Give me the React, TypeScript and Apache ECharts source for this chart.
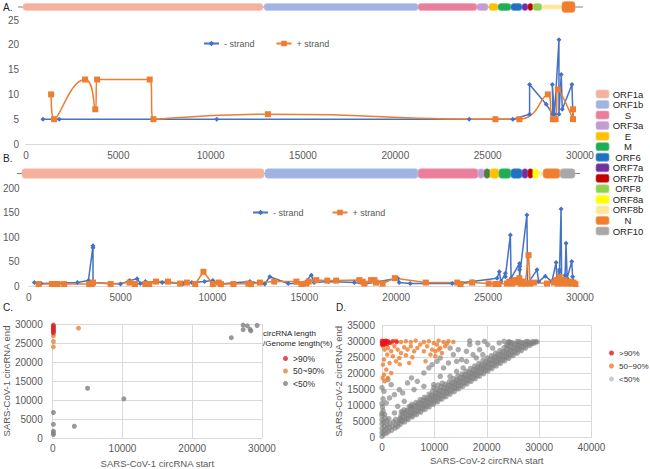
import React, { useEffect, useRef } from "react";
import * as echarts from "echarts";

// ---------- genome maps (positions, nt) ----------
const aGeneNames = ["ORF1a", "ORF1b", "S", "ORF3a", "E", "M", "ORF6", "ORF7a", "ORF7b", "ORF8", "ORF8b", "N"];
const aGeneStarts = [-160, 12890, 21230, 24420, 25070, 25560, 26260, 26860, 27180, 27450, 27940, 29020];
const aGeneEnds = [12830, 21230, 24420, 25020, 25560, 26260, 26860, 27180, 27450, 27940, 29020, 29730];
const aBackbone = [-430, 30160];

const bGeneNames = ["ORF1a", "ORF1b", "S", "ORF3a", "ORF3b", "E", "M", "ORF6", "ORF7a", "ORF7b", "ORF8a", "ORF8b", "N", "ORF10"];
const bGeneStarts = [-220, 12940, 21230, 24480, 24800, 25130, 25610, 26260, 26860, 27180, 27450, 27730, 28000, 28920];
const bGeneEnds = [12890, 21230, 24480, 24800, 25130, 25610, 26260, 26860, 27180, 27450, 27730, 28000, 28920, 29730];
const bBackbone = [-490, 30000];

const legendGenes = ["ORF1a", "ORF1b", "S", "ORF3a", "E", "M", "ORF6", "ORF7a", "ORF7b", "ORF8", "ORF8a", "ORF8b", "N", "ORF10"];

// ---------- panel A (SARS-CoV-1 circRNA counts) ----------
const aMinus = [[920, 5], [1800, 5], [10330, 5], [24000, 5], [26360, 5], [27270, 6], [27270, 12], [28170, 8], [28530, 6], [28500, 12], [28620, 6], [28860, 21], [28860, 6], [28985, 14], [29040, 7], [29565, 12], [29620, 5]];
const aPlus = [[1360, 10], [1520, 5], [3200, 13], [3750, 7], [3850, 13], [6700, 13], [6900, 5], [13100, 6], [25420, 5], [26720, 5], [28260, 10], [28530, 5], [28680, 5], [28800, 11], [29620, 5], [29620, 7]];

// ---------- panel B (SARS-CoV-2 circRNA counts) ----------
const bMinus = [[310, 7], [670, 5], [2650, 7], [3250, 11], [3500, 82], [3500, 78], [3500, 7], [5000, 4], [5490, 11], [5900, 15], [6080, 5], [6350, 9], [7260, 7], [8430, 5], [8880, 7], [9570, 9], [10020, 11], [10410, 4], [12040, 9], [12850, 4], [13120, 19], [14120, 5], [14930, 5], [15380, 22], [15530, 7], [16300, 9], [17720, 7], [18270, 4], [20080, 16], [20160, 7], [20760, 5], [23050, 5], [24130, 9], [25490, 16], [25610, 29], [25700, 9], [25940, 26], [25940, 19], [26210, 104], [26250, 16], [26710, 46], [26710, 40], [26710, 33], [26710, 19], [27110, 145], [27150, 5], [27660, 33], [27750, 9], [28110, 20], [28470, 9], [28700, 48], [28750, 9], [28880, 33], [28880, 29], [28880, 22], [28970, 157], [29000, 9], [29190, 22], [29240, 87], [29300, 16], [29550, 50], [29600, 19], [29700, 5]];
const bPlus = [[540, 4], [1260, 4], [1480, 4], [1570, 4], [1930, 4], [3290, 4], [3430, 4], [3500, 7], [4460, 4], [5490, 7], [5780, 4], [6350, 4], [6560, 4], [6930, 9], [7580, 9], [8240, 5], [8610, 7], [9060, 4], [9510, 29], [10020, 4], [10340, 7], [10460, 4], [11140, 4], [11950, 5], [12090, 4], [12580, 7], [13360, 9], [14570, 9], [14840, 4], [15110, 5], [15240, 9], [15650, 12], [16250, 11], [16730, 11], [17990, 12], [18170, 9], [18270, 5], [18630, 12], [18810, 12], [18900, 7], [19260, 5], [19930, 16], [21610, 7], [23320, 7], [23500, 4], [24130, 7], [25030, 5], [25390, 4], [25570, 4], [26030, 5], [26150, 9], [26300, 5], [26450, 12], [26550, 7], [26700, 16], [26800, 5], [26900, 9], [27020, 5], [27200, 63], [27290, 5], [27500, 7], [28200, 5], [28580, 7], [28700, 12], [28800, 5], [28880, 18], [28950, 9], [29050, 5], [29150, 12], [29250, 7], [29350, 5], [29450, 9], [29550, 5], [29650, 7], [29750, 4]];

// ---------- panel C (SARS-CoV-1 start vs end) ----------
const cHigh = [[100, 29700], [100, 29300], [100, 28900], [100, 28500], [100, 28100], [100, 27700]];
const cMid = [[100, 26900], [100, 25400], [100, 24000], [3700, 28900]];
const cLow = [[100, 6700], [100, 3600], [100, 1800], [100, 1300], [100, 900], [3100, 3100], [5000, 13100], [10200, 10300], [25600, 26400], [27300, 29700], [27300, 28500], [27900, 29500], [28300, 28600], [28400, 28200], [29300, 29600]];

// ---------- panel D (SARS-CoV-2 start vs end) ----------
const dHigh = [[0, 30200], [190, 29790], [375, 30000], [500, 29480], [690, 30200], [875, 29790], [1125, 30000], [1440, 29580], [190, 29170], [500, 28960], [0, 28960], [1000, 29170], [2060, 30000], [2810, 29790], [0, 29580]];
const dMid = [
  [810, 30000], [1750, 29480], [2690, 30200], [3625, 29800], [4560, 30000], [5500, 29800], [6440, 30200], [8000, 29800], [8940, 30000], [9875, 29480], [10810, 30200], [11750, 29800], [12690, 30000], [13625, 29800],
  [190, 28440], [500, 27400], [1125, 27920], [1750, 26880], [2375, 28440], [3000, 27400], [3625, 26350], [4250, 28125], [4875, 27400], [5500, 28440], [6125, 26880], [6750, 27920],
  [1000, 25830], [2060, 25310], [3310, 24790], [4560, 25625], [5810, 25000], [375, 24270], [1440, 23230], [2690, 23750], [5190, 23230], [190, 22700], [810, 21150], [375, 19580], [1125, 18540], [500, 17500], [1750, 20100], [125, 18540], [3400, 22800],
  [8625, 28440], [9560, 27400], [10190, 26880], [11125, 27920], [10500, 28960], [11440, 26350], [12060, 28440], [9250, 25830], [8310, 23750], [10190, 25310], [10810, 27400], [8000, 26880], [7300, 29000], [12400, 29300]
];
const dLow = [
  [0, 300], [0, 1500], [0, 2800], [0, 4200], [0, 5500], [0, 6800], [0, 7500], [300, 1000], [400, 2200], [500, 3500], [300, 4800], [600, 6000], [500, 7200], [200, 8300], [100, 9500], [800, 1200], [900, 2600], [1000, 3900], [900, 5200], [1200, 1800], [1400, 3000], [1500, 4300], [1300, 5800], [1800, 2200], [2000, 3400], [2200, 4800], [2500, 2900], [2700, 4000], [2600, 5600], [3000, 3400], [3200, 4600], [3400, 5800],
  [3500, 4100], [3500, 5300], [3600, 6700], [3700, 8000], [4300, 4800], [4300, 6100], [4400, 7500], [4200, 8600], [5000, 5600], [5100, 6900], [5000, 8200], [5200, 9600], [5800, 6400], [5800, 7700], [5900, 9100], [5700, 10300],
  [6600, 7100], [6600, 8400], [6700, 9800], [6500, 10900], [7400, 7900], [7400, 9200], [7500, 10600], [7300, 11800], [8200, 8700], [8200, 10000], [8300, 11300], [8100, 12500], [9000, 9500], [9000, 10800], [9100, 12200], [9000, 13500],
  [9800, 10300], [9800, 11600], [9900, 13000], [9700, 14400], [9900, 15500], [10600, 11100], [10600, 12400], [10700, 13800], [10500, 15000], [10700, 16300], [11400, 11900], [11400, 13200], [11500, 14600], [11300, 15800], [11500, 16900],
  [12200, 12700], [12200, 14000], [12300, 15400], [12100, 16600], [13000, 13500], [13000, 14800], [13100, 16200], [12900, 17500], [13800, 14300], [13800, 15600], [13900, 17000], [13700, 18300], [14600, 15100], [14600, 16400], [14700, 17800], [14500, 19200],
  [15400, 15900], [15400, 17200], [15500, 18600], [15300, 19800], [16200, 16700], [16200, 18000], [16300, 19300], [16100, 20600], [17000, 17500], [17000, 18800], [17100, 20100], [16900, 21500], [17800, 18300], [17800, 19600], [17900, 21000], [17700, 22300],
  [18600, 19100], [18600, 20400], [18700, 21800], [18500, 23100], [19400, 19900], [19400, 21200], [19500, 22500], [19300, 24000], [20200, 20700], [20200, 22000], [20300, 23400], [20100, 24800], [21000, 21500], [21000, 22800], [21100, 24100], [20900, 25500],
  [21800, 22300], [21800, 23600], [21900, 25000], [21700, 26300], [22600, 23100], [22600, 24400], [22700, 25800], [22500, 27100], [23400, 23900], [23400, 25200], [23500, 26600], [23300, 28000], [24200, 24700], [24200, 26000], [24300, 27400], [24100, 28700], [24200, 29800],
  [25000, 25500], [25000, 26800], [25100, 28200], [24900, 29500], [25800, 26300], [25800, 27600], [25900, 28900], [25800, 29900], [26600, 27100], [26600, 28400], [26700, 29600], [27400, 27900], [27400, 29100], [27500, 29900], [28200, 28700], [28200, 29700], [29000, 29400], [28800, 29900], [29600, 29800],
  [3900, 5000], [3900, 6300], [3900, 7600], [4700, 5800], [4700, 7100], [4700, 8400], [5500, 6600], [5500, 7900], [5500, 9200], [6200, 7300], [6200, 8600], [6200, 9900], [7000, 8100], [7000, 9400], [7000, 10700], [7800, 8900], [7800, 10200], [7800, 11500],
  [8600, 9700], [8600, 11000], [8600, 12300], [9400, 10500], [9400, 11800], [9400, 13100], [10200, 11300], [10200, 12600], [10200, 13900], [11000, 12100], [11000, 13400], [11000, 14700], [11800, 12900], [11800, 14200], [11800, 15500],
  [12600, 13700], [12600, 15000], [12600, 16300], [13400, 14500], [13400, 15800], [13400, 17100], [14200, 15300], [14200, 16600], [14200, 17900], [15000, 16100], [15000, 17400], [15000, 18700], [15800, 16900], [15800, 18200], [15800, 19500],
  [16600, 17700], [16600, 19000], [16600, 20300], [17400, 18500], [17400, 19800], [17400, 21100], [18200, 19300], [18200, 20600], [18200, 21900], [19000, 20100], [19000, 21400], [19000, 22700], [19800, 20900], [19800, 22200], [19800, 23500],
  [20600, 21700], [20600, 23000], [20600, 24300], [21400, 22500], [21400, 23800], [21400, 25100], [22200, 23300], [22200, 24600], [22200, 25900], [23000, 24100], [23000, 25400], [23000, 26700], [23800, 24900], [23800, 26200], [23800, 27500], [23800, 28800],
  [24600, 25700], [24600, 27000], [24600, 28300], [24600, 29600], [25400, 26500], [25400, 27800], [25400, 29100], [26200, 27300], [26200, 28600], [26200, 29900], [27000, 28100], [27000, 29400], [27800, 28900], [27800, 29900], [28600, 29300], [29300, 29900],
  [375, 14375], [810, 10730], [1440, 12290], [2375, 13330], [3300, 14900], [4875, 17000], [5625, 18540], [6750, 17500], [8000, 15940], [4250, 11250], [5500, 9690], [2375, 7600], [3000, 9690], [8000, 20100], [8940, 21670], [9560, 22700], [10500, 23750], [11125, 24800], [11750, 21670], [12690, 23230], [13625, 25830], [14560, 27400], [15190, 24270], [16125, 26870], [16750, 28960], [17375, 25830], [18310, 29480], [18625, 27400], [19560, 30000], [20190, 28960], [21125, 27900], [22375, 29480], [23310, 30000], [24250, 29800], [13000, 19060], [14250, 20625], [15500, 21670], [11125, 19060], [9875, 16460], [6125, 14900], [3940, 13850], [1750, 16460], [1125, 18020], [16125, 23750], [18000, 24800], [19250, 25830], [14250, 23750], [13000, 27900], [16750, 30100], [0, 10500], [200, 12000], [0, 15500]
];

// ---------- styles ----------
const geneColor: Record<string, string> = {
  ORF1a: "#f4b19b", ORF1b: "#9fb4e3", S: "#e97f9c", ORF3a: "#c49cd4", ORF3b: "#4f7f3a", E: "#ffc000", M: "#1fae55",
  ORF6: "#1f71c4", ORF7a: "#7030a0", ORF7b: "#c00000", ORF8: "#92d050", ORF8a: "#ffff00", ORF8b: "#ffe699", N: "#f07e2f", ORF10: "#a8a8a8",
};
const BLUE = "#4472c4";
const ORANGE = "#ed7d31";
const AXIS_GRAY = "#d9d9d9";
const LABEL = "#595959";
const FONT = "Liberation Sans, Arial, sans-serif";
const plain = (v: number) => String(v);

function geneHeight(name: string, panel: string) {
  if (name === "ORF8b") return 0.3;
  if (panel === "A") return name === "N" ? 0.78 : 0.5;
  return 0.68;
}

function geneSeries(names: string[], starts: number[], ends: number[], axisIdx: number, panel: string) {
  return {
    type: "custom",
    xAxisIndex: axisIdx,
    yAxisIndex: axisIdx,
    silent: true,
    encode: { x: [0, 1] },
    data: names.map((n, i) => [starts[i], ends[i], i]),
    renderItem: (params: any, api: any) => {
      const i = api.value(2);
      const name = names[i];
      const a = api.coord([api.value(0), 0.5]);
      const b = api.coord([api.value(1), 0.5]);
      const h = api.size([0, geneHeight(name, panel)])[1];
      const fill = geneColor[name];
      return {
        type: "rect",
        shape: { x: a[0], y: a[1] - h / 2, width: b[0] - a[0], height: h, r: Math.min(3, h / 2) },
        style: { fill, stroke: echarts.color.lift(fill, 0.25), lineWidth: 0.6 },
      };
    },
  };
}

function backboneSeries(bb: number[], axisIdx: number) {
  return {
    type: "custom",
    xAxisIndex: axisIdx,
    yAxisIndex: axisIdx,
    silent: true,
    encode: { x: [0, 1] },
    data: [bb],
    renderItem: (params: any, api: any) => {
      const a = api.coord([api.value(0), 0.5]);
      const b = api.coord([api.value(1), 0.5]);
      return { type: "line", shape: { x1: a[0], y1: a[1], x2: b[0], y2: b[1] }, style: { stroke: "#808080", lineWidth: 1 } };
    },
  };
}

const hiddenX = { type: "value", min: 0, max: 30000, show: false };
const hiddenY = { type: "value", min: 0, max: 1, show: false };

function lineX(gi: number) {
  return {
    type: "value", gridIndex: gi, min: 0, max: 30000, interval: 5000,
    axisLine: { show: true, lineStyle: { color: AXIS_GRAY } }, axisTick: { show: false }, splitLine: { show: false },
    axisLabel: { color: LABEL, fontSize: 10, fontFamily: FONT, margin: 6, formatter: plain },
  };
}
function lineY(gi: number, max: number, interval: number, margin: number) {
  return {
    type: "value", gridIndex: gi, min: 0, max, interval,
    axisLine: { show: false }, axisTick: { show: false }, splitLine: { show: false },
    axisLabel: { color: LABEL, fontSize: 10, fontFamily: FONT, margin, formatter: plain },
  };
}
function scatterAxis(gi: number, max: number, interval: number, name: string, nameGap: number, labelMargin: number) {
  return {
    type: "value", gridIndex: gi, min: 0, max, interval, name, nameLocation: "middle", nameGap,
    nameTextStyle: { color: LABEL, fontSize: 9.5, fontFamily: FONT },
    axisLine: { show: true, lineStyle: { color: AXIS_GRAY } }, axisTick: { show: false },
    splitLine: { show: true, lineStyle: { color: AXIS_GRAY } },
    axisLabel: { color: LABEL, fontSize: 10, fontFamily: FONT, margin: labelMargin, formatter: plain },
  };
}

export default function App() {
  const ref = useRef<HTMLDivElement>(null);
  useEffect(() => {
    if (!ref.current) return;
    const chart = echarts.init(ref.current, undefined, { renderer: "svg" });
    const option: any = {
      animation: false,
      backgroundColor: "#ffffff",
      textStyle: { fontFamily: FONT },
      title: [
        { text: "A.", left: 3, top: 2, padding: 0, textStyle: { fontSize: 10, fontWeight: "normal", color: "#222", fontFamily: FONT } },
        { text: "B.", left: 3, top: 153, padding: 0, textStyle: { fontSize: 10, fontWeight: "normal", color: "#222", fontFamily: FONT } },
        { text: "C.", left: 3, top: 302, padding: 0, textStyle: { fontSize: 10, fontWeight: "normal", color: "#222", fontFamily: FONT } },
        { text: "D.", left: 336, top: 302, padding: 0, textStyle: { fontSize: 10, fontWeight: "normal", color: "#222", fontFamily: FONT } },
        { text: "circRNA length\n/Genome length(%)", left: 263, top: 328, padding: 0, textStyle: { fontSize: 8, lineHeight: 10, fontWeight: "normal", color: "#222", fontFamily: FONT } },
      ],
      grid: [
        { left: 26, width: 554, top: 0, height: 14 },
        { left: 26, width: 554, top: 20, height: 124 },
        { left: 26, width: 554, top: 166.5, height: 14 },
        { left: 26, width: 554, top: 188, height: 98 },
        { left: 51, width: 211, top: 324, height: 117 },
        { left: 382, width: 209.5, top: 325.3, height: 112 },
      ],
      xAxis: [
        { ...hiddenX, gridIndex: 0 },
        lineX(1),
        { ...hiddenX, gridIndex: 2 },
        lineX(3),
        scatterAxis(4, 30000, 10000, "SARS-CoV-1 circRNA start", 20, 5),
        scatterAxis(5, 40000, 10000, "SARS-CoV-2 circRNA start", 18, 5),
      ],
      yAxis: [
        { ...hiddenY, gridIndex: 0 },
        lineY(1, 25, 5, 7),
        { ...hiddenY, gridIndex: 2 },
        lineY(3, 200, 50, 9),
        scatterAxis(4, 30000, 5000, "SARS-CoV-1 circRNA end", 38, 10),
        scatterAxis(5, 35000, 5000, "SARS-CoV-2 circRNA end", 34, 7),
      ],
      legend: [
        {
          data: ["- strand", "+ strand"], left: 203, top: 39, padding: 0, itemWidth: 15, itemHeight: 7, itemGap: 21,
          textStyle: { color: LABEL, fontSize: 9, fontFamily: FONT },
        },
        {
          data: ["- strand", "+ strand"], left: 252, top: 208, padding: 0, itemWidth: 15, itemHeight: 7, itemGap: 28,
          textStyle: { color: LABEL, fontSize: 9, fontFamily: FONT },
        },
        {
          orient: "vertical", left: 283, top: 354, padding: 0, icon: "circle", itemWidth: 5, itemHeight: 5, itemGap: 3.5,
          data: [
            { name: ">90%", itemStyle: { color: "#d8232a" } },
            { name: "50~90%", itemStyle: { color: "#e8853a" } },
            { name: "<50%", itemStyle: { color: "#808080" } },
          ],
          textStyle: { color: "#333", fontSize: 8.5, fontFamily: FONT },
        },
        {
          orient: "vertical", left: 609, top: 349, padding: 0, icon: "circle", itemWidth: 5, itemHeight: 5, itemGap: 5,
          data: [
            { name: ">90%", itemStyle: { color: "#e8151b" } },
            { name: "50~90%", itemStyle: { color: ORANGE } },
            { name: "<50%", itemStyle: { color: "#c0c0c0" } },
          ],
          textStyle: { color: "#333", fontSize: 8, fontFamily: FONT },
        },
      ],
      graphic: legendGenes.map((n, i) => ({
        type: "group",
        x: 596,
        y: 94 + i * 10.54,
        children: [
          { type: "rect", shape: { x: 0, y: -4, width: 13, height: 8, r: 2 }, style: { fill: geneColor[n], stroke: echarts.color.lift(geneColor[n], 0.3), lineWidth: 0.7 } },
          { type: "text", style: { text: n, x: 32, y: 0, align: "center", verticalAlign: "middle", fontSize: 9.5, fontFamily: FONT, fill: "#222" } },
        ],
      })),
      series: [
        backboneSeries(aBackbone, 0),
        geneSeries(aGeneNames, aGeneStarts, aGeneEnds, 0, "A"),
        {
          name: "- strand", type: "line", xAxisIndex: 1, yAxisIndex: 1, data: aMinus, symbol: "diamond", symbolSize: 5,
          itemStyle: { color: BLUE }, lineStyle: { color: BLUE, width: 1.5 },
        },
        {
          name: "+ strand", type: "line", xAxisIndex: 1, yAxisIndex: 1, data: aPlus, symbol: "rect", symbolSize: 6, smooth: 0.6,
          itemStyle: { color: ORANGE }, lineStyle: { color: ORANGE, width: 1.5 },
        },
        backboneSeries(bBackbone, 2),
        geneSeries(bGeneNames, bGeneStarts, bGeneEnds, 2, "B"),
        {
          name: "- strand", type: "line", xAxisIndex: 3, yAxisIndex: 3, data: bMinus, symbol: "diamond", symbolSize: 5,
          itemStyle: { color: BLUE }, lineStyle: { color: BLUE, width: 1.5 },
        },
        {
          name: "+ strand", type: "line", xAxisIndex: 3, yAxisIndex: 3, data: bPlus, symbol: "rect", symbolSize: 6,
          itemStyle: { color: ORANGE }, lineStyle: { color: ORANGE, width: 1.5 },
        },
        { name: "<50%", type: "scatter", xAxisIndex: 4, yAxisIndex: 4, data: cLow, symbolSize: 5, itemStyle: { color: "#808080" } },
        { name: "50~90%", type: "scatter", xAxisIndex: 4, yAxisIndex: 4, data: cMid, symbolSize: 5, itemStyle: { color: "#e8853a" } },
        { name: ">90%", type: "scatter", xAxisIndex: 4, yAxisIndex: 4, data: cHigh, symbolSize: 5, itemStyle: { color: "#d8232a" } },
        { name: "<50%", type: "scatter", xAxisIndex: 5, yAxisIndex: 5, data: dLow, symbolSize: 5.5, itemStyle: { color: "#7f7f7f", opacity: 0.65 } },
        { name: "50~90%", type: "scatter", xAxisIndex: 5, yAxisIndex: 5, data: dMid, symbolSize: 4.5, itemStyle: { color: ORANGE } },
        { name: ">90%", type: "scatter", xAxisIndex: 5, yAxisIndex: 5, data: dHigh, symbolSize: 4.5, itemStyle: { color: "#e8151b" } },
      ],
    };
    chart.setOption(option);
    return () => chart.dispose();
  }, []);
  return <div ref={ref} style={{ position: "fixed", left: 0, top: 0, width: 650, height: 469, background: "#fff" }} />;
}
